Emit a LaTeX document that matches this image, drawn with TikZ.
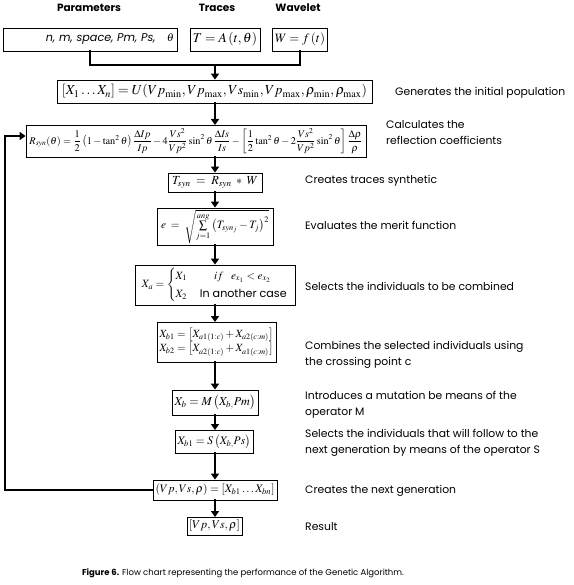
\documentclass[tikz,border=0pt]{standalone}
\usepackage{amsmath}
\usepackage{mathptmx}
\usepackage{graphicx}
\usepackage{fontspec}
\setmainfont{Poppins}
\usetikzlibrary{arrows.meta}
\newcommand{\fitw}[2]{\resizebox{#1}{!}{#2}}
\tikzset{
  box/.style={draw=black, line width=0.8pt, inner sep=0pt, anchor=center, fill=white},
  conn/.style={line width=2.2pt, line cap=rect},
  arr/.style={conn, -{Triangle[width=8pt,length=6pt]}},
  lab/.style={anchor=west, align=left, font=\fontsize{10.8}{16}\selectfont, inner sep=0pt},
  head/.style={font=\fontsize{10.5}{12}\selectfont\bfseries, inner sep=0pt}
}
\begin{document}
\begin{tikzpicture}[x=1pt,y=-1pt]
\useasboundingbox[fill=white] (0,0) rectangle (573,585);
% headers
\node[head] (hp) at (89,8) {Parameters};
\node[head] (ht) at (217,8) {Traces};
\node[head] (hw) at (298,8) {Wavelet};
% row 1
\node[box, minimum width=174pt, minimum height=23pt, text width=168pt, align=right] (p1) at (90,39.5)
  {\fitw{128pt}{\itshape n, m, space, Pm, Ps,\quad $\theta$}};
\node[box, minimum width=70pt, minimum height=23pt] (p2) at (225,39.5) {\fitw{64pt}{$T = A\left(t,\theta\right)$}};
\node[box, minimum width=55pt, minimum height=23pt] (p3) at (300,39.5) {\fitw{50pt}{$W = f\left(t\right)$}};
\coordinate (j1) at (90,65);
\coordinate (j2) at (300,65);
\coordinate (jm) at (215,65);
\draw[conn] (p1.south) -- (j1) -- (j2) -- (p3.south);
% population
\node[box, minimum width=315pt, minimum height=23pt] (pop) at (214.5,91.5)
  {\fitw{305pt}{$\left[X_1\ldots X_n\right]=U\!\left(Vp_{\min},Vp_{\max},Vs_{\min},Vp_{\max},\rho_{\min},\rho_{\max}\right)$}};
\draw[arr] (jm) -- (jm |- pop.north);
\node[lab] (lpop) at (395,93) {Generates the initial population};
% reflection
\node[box, minimum width=340pt, minimum height=32pt] (refl) at (196,141)
  {\fitw{333pt}{$R_{syn}(\theta)=\dfrac{1}{2}\left(1-\tan^2\theta\right)\dfrac{\Delta Ip}{Ip}-4\dfrac{Vs^2}{Vp^2}\sin^2\theta\,\dfrac{\Delta Is}{Is}-\left[\dfrac{1}{2}\tan^2\theta-2\dfrac{Vs^2}{Vp^2}\sin^2\theta\right]\dfrac{\Delta\rho}{\rho}$}};
\draw[arr] (215,103) -- (215,125);
\node[lab] (lrefl) at (386,133) {Calculates the\\reflection coefficients};
% Tsyn
\node[box, minimum width=94pt, minimum height=19pt] (tsyn) at (215,182.5)
  {\fitw{86pt}{$T_{syn}\;=\;R_{syn}\;*\;W$}};
\draw[arr] (215,157) -- (tsyn.north);
\node[lab] (ltsyn) at (305,181) {Creates traces synthetic};
% e
\node[box, minimum width=116pt, minimum height=37pt] (e) at (215,226.5)
  {\fitw{108pt}{$e\;=\;\sqrt{\sum\limits_{j=1}^{ang}\left(T_{syn_j}-T_j\right)^2}$}};
\draw[arr] (tsyn.south) -- (e.north);
\node[lab] (le) at (305,225) {Evaluates the merit function};
% Xa
\node[box, minimum width=160pt, minimum height=40pt] (xa) at (215,285)
  {\fitw{146pt}{$X_a=\begin{cases}X_1 & \quad\;\; if\;\;\; e_{x_1}<e_{x_2}\\[2pt] X_2 & \text{\normalfont\,In another case}\end{cases}$}};
\draw[arr] (e.south) -- (xa.north);
\node[lab] (lxa) at (305,286) {Selects the individuals to be combined};
% Xb
\node[box, minimum width=119pt, minimum height=40pt] (xb) at (216.5,342)
  {\fitw{114pt}{\begin{tabular}{@{}l@{}}$X_{b1}=\left[X_{a1(1:c)}+X_{a2(c:m)}\right]$\\[1pt]$X_{b2}=\left[X_{a2(1:c)}+X_{a1(c:m)}\right]$\end{tabular}}};
\draw[arr] (215,305) -- (215,322);
\node[lab] (lxb) at (305,355) {Combines the selected individuals using\\the crossing point c};
% mutation
\node[box, minimum width=86pt, minimum height=25pt] (mut) at (215,402.5)
  {\fitw{81pt}{$X_b=M\left(X_{b,}Pm\right)$}};
\draw[arr] (215,362) -- (mut.north);
\node[lab] (lmut) at (305,405) {Introduces a mutation be means of the\\operator M};
% selection
\node[box, minimum width=78pt, minimum height=23pt] (sel) at (214,441.5)
  {\fitw{73pt}{$X_{b1}=S\left(X_{b,}Ps\right)$}};
\draw[arr] (mut.south) -- (215,430);
\node[lab] (lsel) at (305,443) {Selects the individuals that will follow to the\\next generation by means of the operator S};
% next generation
\node[box, minimum width=124pt, minimum height=20pt] (gen) at (215,490)
  {\fitw{119pt}{$\left(Vp,Vs,\rho\right)=\left[X_{b1}\ldots X_{bn}\right]$}};
\draw[arr] (215,453) -- (gen.north);
\node[lab] (lgen) at (305,491) {Creates the next generation};
% result
\node[box, minimum width=55pt, minimum height=18pt] (res) at (214.5,526)
  {\fitw{51pt}{$\left[Vp,Vs,\rho\right]$}};
\draw[arr] (gen.south) -- (215,517);
\node[lab] (lres) at (305,527) {Result};
% feedback
\coordinate (fb1) at (5,490);
\coordinate (fb2) at (5,136);
\draw[arr] (gen.west) -- (fb1) -- (fb2) -- (refl.west |- fb2);
% caption
\node[font=\fontsize{8.5}{10}\selectfont, inner sep=0pt] (cap) at (243,573) {\textbf{Figure 6.} Flow chart representing the performance of the Genetic Algorithm.};
\end{tikzpicture}
\end{document}
